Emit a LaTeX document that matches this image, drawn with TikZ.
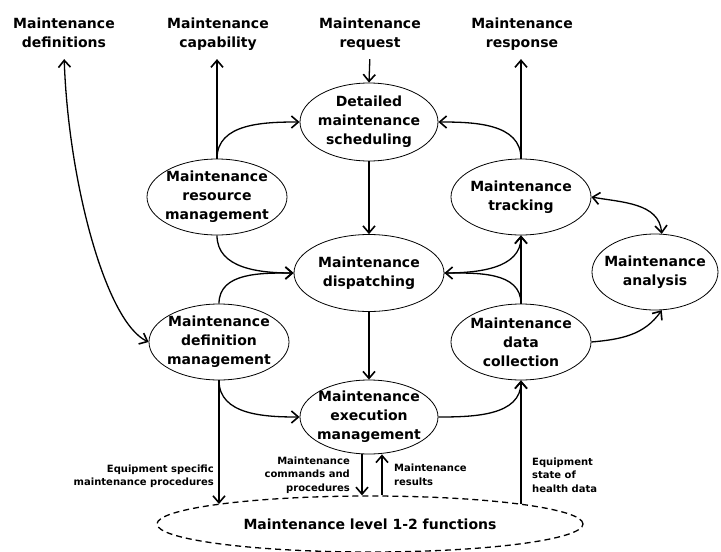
\documentclass[tikz,border=0pt]{standalone}
\usepackage{fontspec}
\setmainfont{DejaVu Sans}
\usetikzlibrary{shapes.geometric,arrows.meta,positioning}

\begin{document}
\begin{tikzpicture}[
    x=1pt, y=-1pt,
    func/.style={ellipse, draw, line width=0.8pt, inner sep=0pt, minimum width=140pt, minimum height=76pt},
    ftext/.style={font=\fontsize{14}{19}\selectfont\bfseries, align=center},
    ext/.style={font=\fontsize{14}{19}\selectfont\bfseries, align=center, text depth=3.5pt},
    flow/.style={font=\fontsize{10}{13.5}\selectfont\bfseries, inner sep=0pt},
    tip/.tip={Straight Barb[length=7pt,width=12pt,line width=1.6pt]},
    arrow/.style={-tip, line width=1.3pt},
    darrow/.style={tip-tip, line width=1.3pt}
]
\useasboundingbox (0,0) rectangle (721,552);

% Top row: external flows
\node[ext] (defs) at (64,34) {Maintenance\\definitions};
\node[ext] (capab) at (218,34) {Maintenance\\capability};
\node[ext] (req) at (370,34) {Maintenance\\request};
\node[ext] (resp) at (522,34) {Maintenance\\response};

% Activities
\node[func, minimum width=138pt, minimum height=78pt, label={[ftext]center:Detailed\\maintenance\\scheduling}] (sched) at (369,122) {};
\node[func, label={[ftext]center:Maintenance\\resource\\management}] (resource) at (217,197) {};
\node[func, label={[ftext]center:Maintenance\\tracking}] (track) at (521,197) {};
\node[func, minimum width=150pt, minimum height=77pt, label={[ftext]center:Maintenance\\dispatching}] (disp) at (369,273) {};
\node[func, minimum width=126pt, label={[ftext]center:Maintenance\\analysis}] (analysis) at (655,272) {};
\node[func, label={[ftext]center:Maintenance\\definition\\management}] (defmgmt) at (219,342) {};
\node[func, label={[ftext]center:Maintenance\\data\\collection}] (dcoll) at (521,342) {};
\node[func, minimum width=138pt, minimum height=74pt, label={[ftext]center:Maintenance\\execution\\management}] (exec) at (369,417) {};

% Level 1-2
\node[ellipse, draw, line width=1.3pt, dash pattern=on 6pt off 4pt, minimum width=426pt, minimum height=56pt, inner sep=0pt, font=\fontsize{14}{19}\selectfont\bfseries] (level) at (370,524) {Maintenance level 1-2 functions};
\coordinate (lvlleft) at (219,504);
\coordinate (lvlright) at (521,504);

% Flows to and from the outside
\draw[darrow, shorten <=5pt] (defs.south) to[out=-88, in=155, out looseness=1.1, in looseness=0.4] (defmgmt.west);
\draw[arrow, shorten >=5pt] (resource.north) -- (resource.north |- capab.south);
\draw[arrow, shorten <=5pt] (req.south) -- (sched.north);
\draw[arrow, shorten >=5pt] (track.north) -- (track.north |- resp.south);

% Flows between activities
\draw[arrow] (resource.north) to[out=90, in=180] (sched.west);
\draw[arrow] (track.north) to[out=90, in=0] (sched.east);
\draw[arrow] (sched) -- (disp);
\draw[arrow] (resource.south) to[out=-90, in=180] (disp.west);
\draw[arrow] (defmgmt.north) to[out=90, in=180] (disp.west);
\draw[arrow] (dcoll.north) to[out=90, in=0] (disp.east);
\draw[arrow] (disp.east) to[out=0, in=-90] (track.south);
\draw[arrow] (dcoll) -- (track);
\draw[darrow] (track.east) to[out=-10, in=95] (analysis.80);
\draw[arrow] (dcoll.east) to[out=5, in=-125] (analysis.-80);
\draw[arrow] (disp) -- (exec);
\draw[arrow] (defmgmt.south) to[out=-90, in=180] (exec.west);
\draw[arrow] (exec.east) to[out=0, in=-90] (dcoll.south);

% Flows to and from level 1-2
\draw[arrow] (defmgmt.south) -- (defmgmt.south |- lvlleft);
\draw[arrow] (dcoll.south |- lvlright) -- (dcoll.south);
\draw[arrow] ([xshift=-7pt]exec.south) -- ([xshift=-7pt]exec.south |- level.north);
\draw[arrow] ([xshift=13pt]exec.south |- level.north) -- ([xshift=13pt]exec.south);

% Flow labels
\node[flow, align=right, anchor=east] (eqproc) at (214,476) {Equipment specific\\maintenance procedures};
\node[flow, align=right, anchor=east] (cmds) at (350,475) {Maintenance\\commands and\\procedures};
\node[flow, align=left, anchor=west] (results) at (394,475) {Maintenance\\results};
\node[flow, align=left, anchor=west] (health) at (532,475) {Equipment\\state of\\health data};

\end{tikzpicture}
\end{document}
